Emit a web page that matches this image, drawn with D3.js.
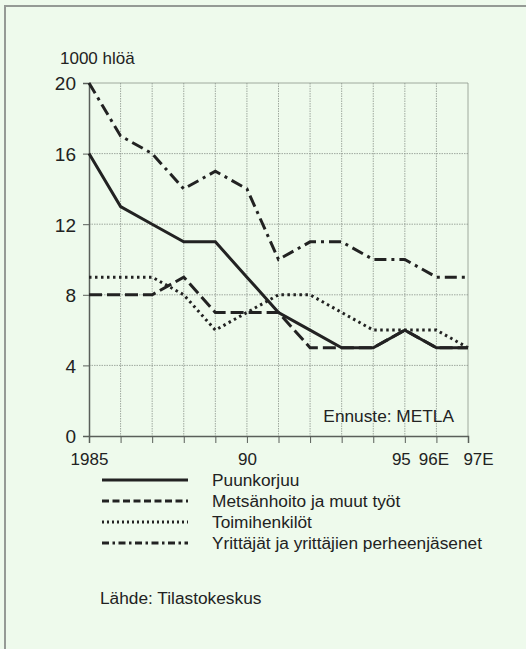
<!DOCTYPE html>
<html>
<head>
<meta charset="utf-8">
<script src="https://cdn.jsdelivr.net/npm/d3@7"></script>
<style>
  body { margin: 0; background: #eefaec; }
  svg { display: block; font-family: "Liberation Sans", Arial, sans-serif; }
</style>
</head>
<body>
<svg id="chart" width="526" height="649"></svg>
<script>
const years = [1985, 1986, 1987, 1988, 1989, 1990, 1991, 1992, 1993, 1994, 1995, 1996, 1997];
const puunkorjuu = [16, 13, 12, 11, 11, 9, 7, 6, 5, 5, 6, 5, 5];
const metsanhoito = [8, 8, 8, 9, 7, 7, 7, 5, 5, 5, 6, 5, 5];
const toimihenkilot = [9, 9, 9, 8, 6, 7, 8, 8, 7, 6, 6, 6, 5];
const yrittajat = [20, 17, 16, 14, 15, 14, 10, 11, 11, 10, 10, 9, 9];
const seriesNames = ["Puunkorjuu", "Metsänhoito ja muut työt", "Toimihenkilöt", "Yrittäjät ja yrittäjien perheenjäsenet"];
const yTicks = [0, 4, 8, 12, 16, 20];
const xTickLabels = { 1985: "1985", 1990: "90", 1995: "95", 1996: "96E", 1997: "97E" };

const dashes = ["none", "13,5", "2.5,3.5", "12,5,3,5"];
const legendDashes = ["none", "7,3.5", "2,3", "7,3.5,2.5,3.5"];
const seriesValues = [puunkorjuu, metsanhoito, toimihenkilot, yrittajat];

const svg = d3.select("#chart");
const ink = "#222";

svg.append("rect").attr("width", 526).attr("height", 649).attr("fill", "#eefaec");
// frame (top and left only)
svg.append("line").attr("x1", 4).attr("x2", 526).attr("y1", 6).attr("y2", 6)
   .attr("stroke", "#959a95").attr("stroke-width", 2);
svg.append("line").attr("x1", 5).attr("x2", 5).attr("y1", 6).attr("y2", 649)
   .attr("stroke", "#959a95").attr("stroke-width", 2);

const x = d3.scaleLinear().domain([1985, 1997]).range([89, 468]);
const y = d3.scaleLinear().domain([0, 20]).range([436, 83]);

// grid
svg.append("g").selectAll("line").data(years.slice(1))
   .enter().append("line")
   .attr("x1", d => x(d)).attr("x2", d => x(d))
   .attr("y1", y(20)).attr("y2", y(0))
   .attr("stroke", "#8c948c").attr("stroke-width", 0.8)
   .attr("stroke-dasharray", d => d === 1997 ? "none" : "1.5,1");
svg.append("g").selectAll("line").data(yTicks.slice(1))
   .enter().append("line")
   .attr("x1", x(1985)).attr("x2", x(1997))
   .attr("y1", d => y(d)).attr("y2", d => y(d))
   .attr("stroke", "#8c948c").attr("stroke-width", 0.8)
   .attr("stroke-dasharray", d => d === 20 ? "none" : "1.5,1");

// axes
const xAxis = svg.append("g")
   .attr("transform", `translate(0,${y(0)})`)
   .call(d3.axisBottom(x).tickValues(years).tickSize(7).tickPadding(10)
     .tickFormat(d => xTickLabels[d] || ""));
const yAxis = svg.append("g")
   .attr("transform", `translate(${x(1985)},0)`)
   .call(d3.axisLeft(y).tickValues(yTicks).tickSize(6).tickPadding(7));
[xAxis, yAxis].forEach(g => {
  g.select(".domain").attr("stroke", "#5a5f5a").attr("stroke-width", 1.5);
  g.selectAll(".tick line").attr("stroke", "#5a5f5a").attr("stroke-width", 1);
  g.selectAll("text").attr("fill", ink).attr("font-family", "Liberation Sans, Arial, sans-serif");
});
xAxis.selectAll("text").attr("font-size", 17)
   .attr("dx", d => d === 1995 ? -4 : d === 1996 ? -3 : d === 1997 ? 10 : 0);
yAxis.selectAll("text").attr("font-size", 19).attr("dy", "0.36em");

svg.append("text").attr("x", 60).attr("y", 64).attr("font-size", 17)
   .attr("fill", ink).text("1000 hlöä");

// series
const line = d3.line().x((d, i) => x(years[i])).y(d => y(d));
svg.append("g").selectAll("path").data(seriesValues)
   .enter().append("path")
   .attr("d", d => line(d))
   .attr("fill", "none")
   .attr("stroke", ink)
   .attr("stroke-width", 3)
   .attr("stroke-dasharray", (d, i) => dashes[i]);

svg.append("text").attr("x", 454).attr("y", 422).attr("text-anchor", "end")
   .attr("font-size", 17.3).attr("fill", ink).text("Ennuste: METLA");

// legend
const legend = svg.append("g").selectAll("g").data(seriesNames)
   .enter().append("g")
   .attr("transform", (d, i) => `translate(0,${486 + i * 21})`);
legend.append("line").attr("x1", 102).attr("x2", 188).attr("y1", -6).attr("y2", -6)
   .attr("stroke", ink).attr("stroke-width", 3)
   .attr("stroke-dasharray", (d, i) => legendDashes[i]);
legend.append("text").attr("x", 212).attr("y", 0).attr("font-size", 17.3)
   .attr("fill", ink).text(d => d);

svg.append("text").attr("x", 100).attr("y", 604).attr("font-size", 17.3)
   .attr("fill", ink).text("Lähde: Tilastokeskus");
</script>
</body>
</html>
